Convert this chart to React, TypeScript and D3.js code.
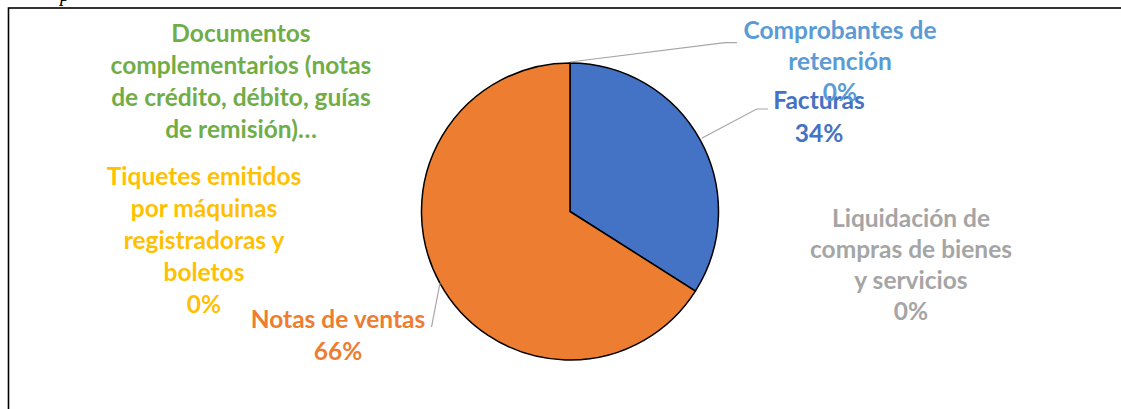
import React from "react";
import * as d3 from "d3";

const categories = [
  "Facturas",
  "Liquidación de compras de bienes y servicios",
  "Notas de ventas",
  "Tiquetes emitidos por máquinas registradoras y boletos",
  "Documentos complementarios (notas de crédito, débito, guías de remisión)",
  "Comprobantes de retención",
];
const values = [34, 0, 66, 0, 0, 0];
const percentLabels = ["34%", "0%", "66%", "0%", "", "0%"];
const colors = ["#4472C4", "#A5A5A5", "#ED7D31", "#FFC000", "#70AD47", "#5B9BD5"];

// label layout (wrapped lines, centre x, first baseline)
const labelLines = [
  ["Facturas", "34%"],
  ["Liquidación de", "compras de bienes", "y servicios", "0%"],
  ["Notas de ventas", "66%"],
  ["Tiquetes emitidos", "por máquinas", "registradoras y", "boletos", "0%"],
  ["Documentos", "complementarios (notas", "de crédito, débito, guías", "de remisión)…"],
  ["Comprobantes de", "retención", "0%"],
];
const labelPos = [
  { x: 819, y: 109, lh: 32.5 },
  { x: 911, y: 226.5, lh: 31.3 },
  { x: 338, y: 328, lh: 32 },
  { x: 204, y: 185, lh: 32 },
  { x: 241, y: 41.7, lh: 32.2 },
  { x: 840, y: 39.3, lh: 30.8 },
];
const leaders: ([number, number][] | null)[] = [
  [[701.7, 138.3], [756.7, 109], [768, 109]],
  null,
  [[440, 283], [431.5, 327]],
  null,
  null,
  [[570, 62], [725, 42.7], [737, 42.7]],
];

const W = 1121;
const H = 409;
const cx = 570;
const cy = 211.5;
const R = 148.5;

export default function App() {
  const pie = d3.pie<number>().sort(null).value((d) => d)(values);
  const arc = d3.arc<d3.PieArcDatum<number>>().innerRadius(0).outerRadius(R);
  return (
    <svg
      width={W}
      height={H}
      style={{ position: "absolute", left: 0, top: 0, background: "#fff" }}
      fontFamily="Lato, 'Open Sans', sans-serif"
    >
      <rect x={0} y={0} width={W} height={H} fill="#fff" />
      <text x={60} y={1} fontFamily="'Liberation Serif', serif" fontStyle="italic" fontSize={20}>p</text>
      <rect x={8.5} y={8} width={1200} height={500} fill="none" stroke="#000" strokeWidth={1.6} />
      <g transform={`translate(${cx},${cy})`}>
        {pie.map((p, i) =>
          p.value > 0 ? (
            <path key={i} d={arc(p) || ""} fill={colors[i]} stroke="#000" strokeWidth={1.5} />
          ) : null
        )}
      </g>
      {leaders.map((pts, i) =>
        pts ? (
          <polyline
            key={i}
            points={pts.map((p) => p.join(",")).join(" ")}
            fill="none"
            stroke="#A6A6A6"
            strokeWidth={1.2}
          />
        ) : null
      )}
      {labelLines.map((lines, i) => (
        <text
          key={i}
          textAnchor="middle"
          fill={colors[i]}
          fontWeight="bold"
          fontSize={24.5}
          aria-label={`${categories[i]} ${percentLabels[i]}`}
        >
          {lines.map((l, j) => (
            <tspan key={j} x={labelPos[i].x} y={labelPos[i].y + j * labelPos[i].lh}>
              {l}
            </tspan>
          ))}
        </text>
      ))}
    </svg>
  );
}
